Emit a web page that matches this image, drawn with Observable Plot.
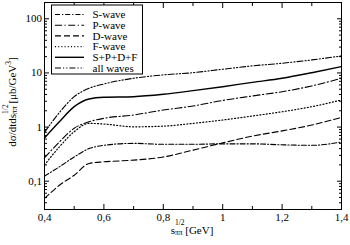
<!DOCTYPE html>
<html><head><meta charset="utf-8">
<script src="https://cdn.jsdelivr.net/npm/d3@7"></script>
<script src="https://cdn.jsdelivr.net/npm/@observablehq/plot@0.6"></script>
<style>body{margin:0;background:#fff} svg text{font-family:"Liberation Serif",serif}</style>
</head><body><div id="chart"></div>
<script>
const energy   = [0.4, 0.45, 0.5, 0.55, 0.6, 0.7, 0.8, 0.9, 1.0, 1.1, 1.2, 1.3, 1.4];
const sWave    = [0.124, 0.184, 0.28, 0.40, 0.46, 0.50, 0.48, 0.48, 0.49, 0.49, 0.47, 0.46, 0.53];
const pWave    = [0.27, 0.53, 0.95, 1.25, 1.45, 1.67, 2.06, 2.45, 3.1, 3.75, 4.5, 5.75, 7.97];
const dWave    = [0.048, 0.084, 0.129, 0.213, 0.228, 0.245, 0.28, 0.375, 0.51, 0.68, 0.85, 1.09, 1.51];
const fWave    = [0.2, 0.43, 0.82, 1.17, 1.14, 1.01, 1.04, 1.17, 1.35, 1.6, 1.92, 2.38, 3.16];
const sumSPDF  = [0.63, 1.25, 2.38, 3.3, 3.55, 3.64, 4.03, 4.7, 5.57, 6.7, 7.97, 10.1, 13.1];
const allWaves = [0.8, 1.85, 3.64, 5.2, 6.25, 7.97, 9.2, 10.1, 11.7, 13.5, 15.1, 17.4, 20.6];
const seriesNames = ["S-wave", "P-wave", "D-wave", "F-wave", "S+P+D+F", "all waves"];
const seriesValues = [sWave, pWave, dWave, fWave, sumSPDF, allWaves];
const xTicks = [0.4, 0.6, 0.8, 1.0, 1.2, 1.4];
const xTickLabels = ["0,4", "0,6", "0,8", "1", "1,2", "1,4"];
const xMinorTicks = [0.5, 0.7, 0.9, 1.1, 1.3];
const yTicks = [0.1, 1, 10, 100];
const yTickLabels = ["0,1", "1", "10", "100"];
const yMinorTicks = [0.03,0.04,0.05,0.06,0.07,0.08,0.09,0.2,0.3,0.4,0.5,0.6,0.7,0.8,0.9,2,3,4,5,6,7,8,9,20,30,40,50,60,70,80,90,200];

const dashes = ["5,2,1.2,2", "7,2.5,1.2,2.5", "6,3", "1,2.2", null, "6,2,1.2,2,1.2,2"];
const widths = [1.1, 1.1, 1.1, 1.2, 1.4, 1.1];
const FONT = "'Liberation Serif', serif";

const rows = seriesNames.map((name, k) => energy.map((e, i) => ({series: name, e, v: seriesValues[k][i]})));
const blank = () => "";

const marks = [
  Plot.frame({stroke: "black", strokeWidth: 1}),
  ...rows.map((r, k) => Plot.line(r, {x: "e", y: "v", stroke: "black", strokeWidth: widths[k], strokeDasharray: dashes[k], curve: "monotone-x"})),
  Plot.axisX(xTicks, {anchor: "bottom", tickSize: -5, tickFormat: blank, label: null}),
  Plot.axisX(xMinorTicks, {anchor: "bottom", tickSize: -3, tickFormat: blank, label: null}),
  Plot.axisX(xTicks, {anchor: "top", tickSize: -5, tickFormat: blank, label: null}),
  Plot.axisX(xMinorTicks, {anchor: "top", tickSize: -3, tickFormat: blank, label: null}),
  Plot.axisX(xTicks, {anchor: "bottom", tickSize: 0, tickPadding: 4, fontSize: 11, tickFormat: d => xTickLabels[xTicks.indexOf(d)], label: null}),
  Plot.axisY(yTicks, {anchor: "left", tickSize: -5, tickFormat: blank, label: null}),
  Plot.axisY(yMinorTicks, {anchor: "left", tickSize: -3, tickFormat: blank, label: null}),
  Plot.axisY(yTicks, {anchor: "right", tickSize: -5, tickFormat: blank, label: null}),
  Plot.axisY(yMinorTicks, {anchor: "right", tickSize: -3, tickFormat: blank, label: null}),
  Plot.axisY(yTicks, {anchor: "left", tickSize: 0, tickPadding: 2.5, fontSize: 11, tickFormat: d => yTickLabels[yTicks.indexOf(d)], label: null})
];

const svgNode = Plot.plot({
  width: 350, height: 245,
  marginLeft: 44, marginRight: 9, marginTop: 2, marginBottom: 36,
  x: {domain: [0.4, 1.4], label: null},
  y: {type: "log", domain: [0.03, 200], label: null},
  style: {fontFamily: FONT, fontSize: "11px", background: "white", color: "black"},
  marks
});
document.getElementById("chart").appendChild(svgNode);
const svg = d3.select(svgNode);

function labelText(sel) {
  return sel.attr("font-family", FONT).attr("font-size", 11).attr("fill", "black");
}
// x label
{
  const t = labelText(svg.append("text").attr("x", 192).attr("y", 234).attr("text-anchor", "middle"));
  t.append("tspan").text("s");
  const sup = t.append("tspan").attr("font-size", 7.5).attr("dy", -9).text("1/2");
  const w = sup.node().getComputedTextLength();
  t.append("tspan").attr("font-size", 7.5).attr("dx", -w).attr("dy", 9.5).text("ππ");
  t.append("tspan").attr("dy", -0.5).text("\u00a0[GeV]");
}
// y label
{
  const t = labelText(svg.append("text").attr("transform", "translate(15.5,102) rotate(-90)").attr("text-anchor", "middle"));
  t.append("tspan").text("dσ/dtds");
  const sup = t.append("tspan").attr("font-size", 7.5).attr("dy", -8).text("1/2");
  const w = sup.node().getComputedTextLength();
  t.append("tspan").attr("font-size", 7.5).attr("dx", -w).attr("dy", 9).text("ππ");
  t.append("tspan").attr("dy", -1).text("\u00a0[μb/GeV");
  t.append("tspan").attr("font-size", 7.5).attr("dy", -5).text("3");
  t.append("tspan").attr("dy", 5).text("]");
}
// legend
{
  const g = svg.append("g");
  g.append("rect").attr("x", 51.5).attr("y", 5).attr("width", 91).attr("height", 69).attr("fill", "white").attr("stroke", "black").attr("stroke-width", 1);
  seriesNames.forEach((name, k) => {
    const cy = 14.5 + 10.7 * k;
    g.append("line").attr("x1", 55).attr("x2", 84).attr("y1", cy).attr("y2", cy)
      .attr("stroke", "black").attr("stroke-width", widths[k]).attr("stroke-dasharray", dashes[k]);
    labelText(g.append("text").attr("x", 92.5).attr("y", cy + 3.8).attr("text-anchor", "start")).text(name);
  });
}
</script>
</body></html>
